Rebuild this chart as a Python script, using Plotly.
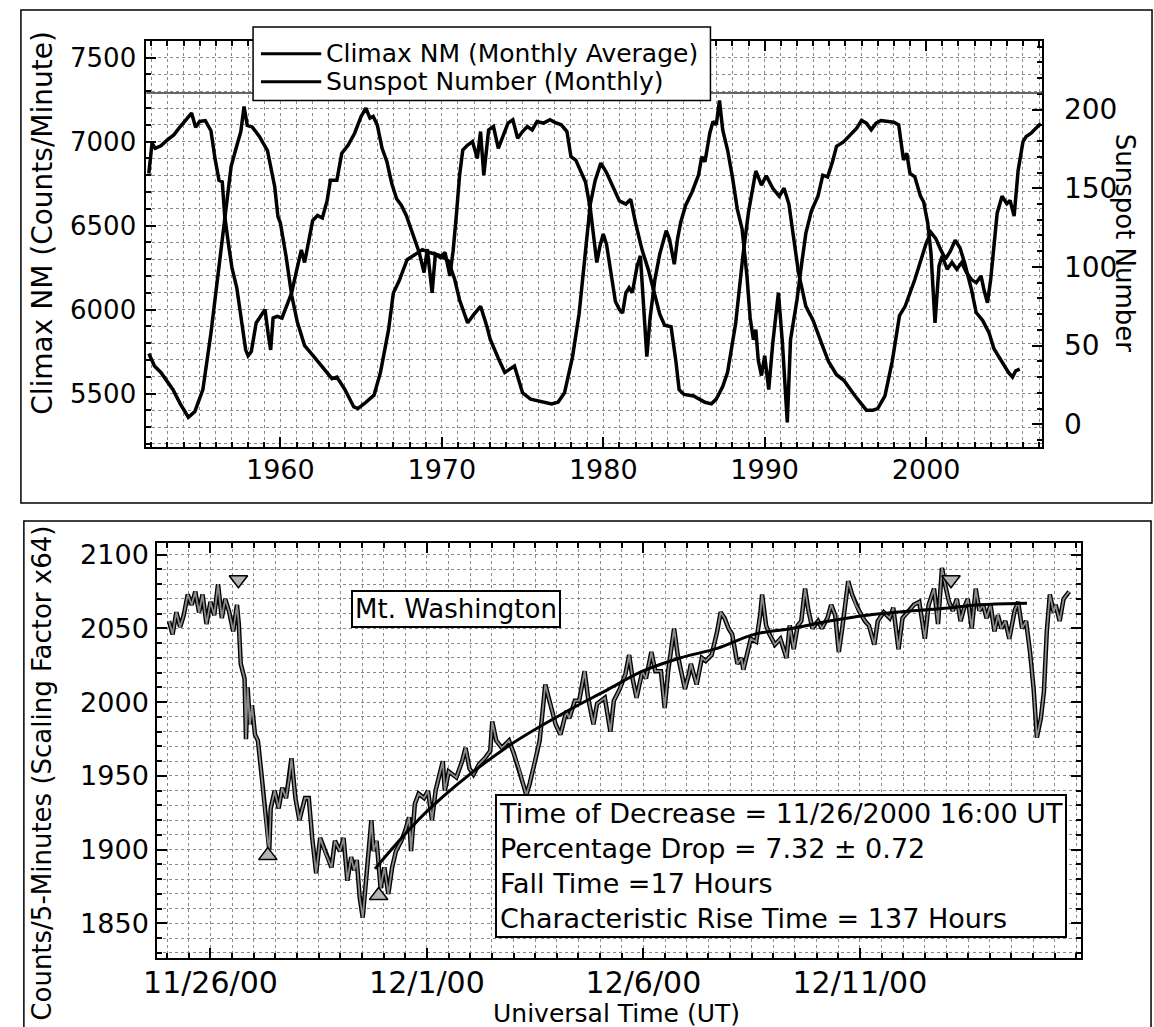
import plotly.graph_objects as go
import pandas as pd

# ---------------- Top panel data ----------------
CLIMAX_YEAR = [1951.85, 1952.05, 1952.25, 1952.6, 1953.0, 1953.4, 1953.8, 1954.2, 1954.5, 1954.75,
               1955.0, 1955.35, 1955.7, 1955.95, 1956.2, 1956.4, 1956.55, 1956.8, 1957.0, 1957.3,
               1957.6, 1957.85, 1958.0, 1958.2, 1958.5, 1958.8, 1959.05, 1959.25, 1959.4, 1959.55,
               1959.8, 1960.1, 1960.4, 1960.7, 1961.0, 1961.3, 1961.5, 1961.75, 1962.0, 1962.3,
               1962.6, 1962.9, 1963.1, 1963.5, 1963.8, 1964.2, 1964.6, 1965.0, 1965.3, 1965.55,
               1965.75, 1966.0, 1966.3, 1966.6, 1966.9, 1967.2, 1967.5, 1967.8, 1968.1, 1968.35,
               1968.6, 1968.9, 1969.1, 1969.4, 1969.6, 1969.9, 1970.2, 1970.5, 1970.7, 1970.9,
               1971.1, 1971.3, 1971.6, 1971.9, 1972.2, 1972.4, 1972.6, 1972.9, 1973.2, 1973.5,
               1973.8, 1974.1, 1974.4, 1974.7, 1975.0, 1975.3, 1975.6, 1975.9, 1976.3, 1976.7,
               1977.0, 1977.4, 1977.75, 1978.0, 1978.3, 1978.6, 1978.9, 1979.2, 1979.45, 1979.6,
               1979.8, 1980.0, 1980.2, 1980.5, 1980.75, 1981.0, 1981.2, 1981.4, 1981.6, 1981.8,
               1982.1, 1982.3, 1982.5, 1982.7, 1982.9, 1983.2, 1983.5, 1983.9, 1984.1, 1984.4,
               1984.6, 1984.8, 1985.1, 1985.5, 1985.9, 1986.1, 1986.3, 1986.6, 1986.8, 1987.0,
               1987.2, 1987.4, 1987.7, 1988.0, 1988.3, 1988.6, 1988.9, 1989.1, 1989.3, 1989.45,
               1989.6, 1989.8, 1990.0, 1990.25, 1990.5, 1990.85, 1991.1, 1991.4, 1991.6, 1992.0,
               1992.3, 1992.55, 1992.9, 1993.3, 1993.6, 1993.9, 1994.2, 1994.45, 1994.9, 1995.4,
               1995.7, 1996.0, 1996.3, 1996.6, 1996.9, 1997.2, 1997.6, 1998.0, 1998.3, 1998.6,
               1998.8, 1999.0, 1999.3, 1999.65, 1999.85, 2000.1, 2000.3, 2000.55, 2000.8, 2001.0,
               2001.3, 2001.6, 2001.9, 2002.2, 2002.5, 2002.8, 2003.1, 2003.4, 2003.6, 2003.8,
               2004.0, 2004.2, 2004.4, 2004.7, 2005.0, 2005.2, 2005.45, 2005.7, 2006.0, 2006.2,
               2006.5, 2006.8, 2007.1]
CLIMAX_NM = [6810, 6990, 6960, 6975, 7010, 7040, 7090, 7140, 7170, 7085,
             7120, 7125, 7065, 6900, 6770, 6760, 6560, 6380, 6250, 6130,
             5930, 5760, 5725, 5750, 5920, 5960, 6000, 5850, 5760, 5950,
             5960, 5950, 6030, 6100, 6230, 6355, 6280, 6400, 6530, 6560,
             6545, 6650, 6770, 6770, 6930, 6980, 7050, 7150, 7200, 7140,
             7150, 7100, 6960, 6880, 6750, 6660, 6620, 6560, 6480, 6400,
             6340, 6220, 6360, 6100, 6330, 6310, 6340, 6200, 6350, 6560,
             6800, 6950, 6980, 7000, 6900, 7060, 6800, 7070, 7090, 6960,
             7040, 7110, 7130, 7020, 7060, 7090, 7070, 7120, 7110, 7130,
             7115, 7100, 7060, 6910, 6890, 6820, 6760, 6600, 6420, 6280,
             6380, 6450, 6390, 6200, 6050, 6000, 5980, 6100, 6130, 6100,
             6260, 6320, 6050, 5720, 5950, 6180, 6330, 6470, 6420, 6270,
             6420, 6520, 6620, 6700, 6800, 6910, 6880, 7050, 7120, 7100,
             7245, 7070, 6950, 6790, 6600, 6480, 6200, 5950, 5820, 5880,
             5700, 5607, 5725, 5524, 5800, 6100, 5800, 5328, 5820, 6058,
             6280, 6455, 6590, 6675, 6800, 6790, 6880, 6972, 7000, 7050,
             7080, 7126, 7110, 7070, 7110, 7126, 7120, 7115, 7100, 6890,
             6930, 6810, 6790, 6675, 6640, 6515, 6337, 5921, 6260, 6320,
             6240, 6280, 6240, 6280, 6220, 6180, 6160, 6200, 6110, 6040,
             6180, 6400, 6574, 6675, 6630, 6650, 6556, 6830, 7000, 7030,
             7050, 7080, 7108]

SSN_YEAR = [1951.85, 1952.2, 1952.6, 1953.0, 1953.35, 1953.8, 1954.3, 1954.7, 1955.2, 1955.7,
            1956.15, 1956.5, 1956.75, 1956.95, 1957.3, 1957.55, 1957.75, 1957.95, 1958.25, 1958.7,
            1959.2, 1959.65, 1959.85, 1960.0, 1960.35, 1960.7, 1961.05, 1961.5, 1962.0, 1962.7,
            1963.2, 1963.5, 1964.0, 1964.55, 1964.8, 1965.3, 1965.8, 1966.2, 1966.7, 1967.0,
            1967.35, 1967.85, 1968.3, 1968.8, 1969.3, 1969.95, 1970.4, 1970.8, 1971.1, 1971.6,
            1972.0, 1972.4, 1972.8, 1973.0, 1973.5, 1973.9, 1974.5, 1975.0, 1975.5, 1976.3,
            1976.8, 1977.2, 1977.6, 1978.1, 1978.5, 1978.8, 1979.2, 1979.5, 1979.85, 1980.2,
            1980.5, 1981.0, 1981.4, 1981.7, 1982.0, 1982.4, 1982.8, 1983.1, 1983.5, 1983.8,
            1984.2, 1984.5, 1984.7, 1985.0, 1985.6, 1986.3, 1986.7, 1987.0, 1987.4, 1987.7,
            1988.2, 1988.65, 1989.0, 1989.45, 1989.8, 1990.1, 1990.5, 1990.9, 1991.2, 1991.5,
            1991.8, 1992.1, 1992.55, 1993.0, 1993.5, 1993.95, 1994.45, 1994.9, 1995.6, 1996.3,
            1996.7, 1997.0, 1997.45, 1997.9, 1998.35, 1998.7, 1999.3, 1999.6, 2000.0, 2000.3,
            2000.6, 2000.9, 2001.2, 2001.5, 2001.8, 2002.1, 2002.4, 2002.8, 2003.1, 2003.5,
            2003.9, 2004.2, 2004.6, 2005.1, 2005.35, 2005.55, 2005.8]
SSN = [45, 37, 33, 27, 22, 13, 4.5, 8, 22, 58,
       96, 128, 151, 164, 177, 186, 202, 190, 189, 183,
       174, 151, 132, 128, 107, 82, 65, 50, 44, 35,
       29, 30, 22, 11, 10, 14, 18.5, 33, 60, 83.5,
       91, 104.6, 107.6, 111, 109, 107, 104, 92, 79, 64.5,
       70, 75, 62, 54, 42, 33, 37, 20, 16, 14,
       13, 14, 20, 43, 70, 100, 140, 155, 166, 160,
       153, 142, 140, 143, 128, 111, 98, 86, 70, 63,
       62, 40, 22, 19, 18, 14, 13, 16, 24, 33,
       64, 107, 135, 161, 152, 158, 150, 145, 150, 140,
       118, 96, 75, 66, 52, 40, 31.5, 28, 18, 9,
       9, 10, 18, 40, 69, 75, 92, 102, 115, 122,
       118, 111, 105, 110, 117, 112, 102, 86, 71, 66,
       58, 48, 41, 33, 30, 34, 35]

TOP_X_TICKS = [1960, 1970, 1980, 1990, 2000]
LEGEND_LABELS = ["Climax NM (Monthly Average)", "Sunspot Number (Monthly)"]

# ---------------- Bottom panel data ----------------
# hours after 2000-11-26 00:00 UT
MW_HOURS = [-23.0, -21.0, -18.9, -16.8, -14.8, -12.6, -10.4, -8.4, -6.3, -4.4,
            -2.2, 0.0, 2.1, 4.2, 6.3, 8.2, 10.4, 12.6, 14.7, 15.7,
            16.8, 18.9, 19.7, 20.6, 21.9, 23.0, 24.7, 26.3, 28.3, 30.4,
            31.8, 32.6, 33.4, 35.6, 37.8, 39.8, 41.9, 43.8, 44.9, 47.1,
            49.3, 52.4, 54.5, 56.4, 58.6, 60.8, 64.0, 67.1, 69.0, 71.8,
            73.8, 75.9, 78.0, 79.7, 81.1, 82.7, 84.4, 86.4, 89.2, 90.4,
            92.1, 94.3, 96.4, 98.6, 100.7, 102.8, 105.8, 108.0, 110.1, 111.2,
            113.3, 115.4, 118.4, 120.6, 122.8, 124.8, 126.9, 128.8, 129.9, 132.1,
            136.3, 139.5, 141.4, 143.6, 145.8, 148.9, 152.1, 155.1, 156.2, 158.4,
            161.5, 165.5, 168.2, 171.0, 173.2, 175.1, 177.0, 180.3, 182.5, 185.6,
            188.5, 191.3, 194.0, 197.3, 198.9, 202.0, 204.4, 207.4, 209.3, 212.3,
            214.3, 218.6, 221.7, 223.6, 226.9, 230.0, 232.1, 234.0, 236.2, 239.4,
            241.4, 244.4, 246.6, 249.7, 251.8, 253.7, 257.0, 259.0, 261.1, 263.0,
            265.2, 266.3, 269.5, 272.4, 274.5, 277.8, 280.9, 282.8, 285.0, 287.2,
            289.2, 292.1, 294.3, 295.4, 299.5, 302.5, 304.7, 305.8, 308.0, 309.9,
            312.9, 315.9, 319.3, 321.1, 323.3, 325.5, 327.5, 329.6, 331.5, 333.7,
            336.8, 338.9, 342.0, 344.1, 346.3, 348.3, 350.2, 353.5, 355.7, 357.7,
            359.5, 362.8, 365.0, 368.0, 369.9, 373.2, 376.5, 378.5, 381.4, 383.6,
            386.7, 389.9, 392.9, 396.0, 398.1, 401.1, 403.3, 405.5, 407.7, 409.4,
            411.5, 413.7, 415.8, 417.8, 419.8, 422.0, 424.2, 426.2, 428.3, 430.2,
            432.4, 434.6, 436.5, 438.4, 440.6, 442.8, 445.8, 447.7, 449.9, 452.1,
            454.3, 456.3, 458.1, 460.3, 462.0, 463.6, 465.3, 467.4, 468.5, 470.7,
            472.9, 476.0]
MW_COUNTS = [2055, 2046, 2061, 2051, 2059, 2073, 2066, 2075, 2061, 2073,
             2053, 2068, 2059, 2080, 2057, 2070, 2061, 2048, 2066, 2053,
             2026, 2016, 1975, 2010, 1985, 1998, 1978, 1974, 1951, 1922,
             1906, 1900, 1928, 1940, 1928, 1942, 1935, 1950, 1962, 1935,
             1920, 1935, 1935, 1908, 1884, 1908, 1897, 1888, 1906, 1899,
             1908, 1879, 1895, 1886, 1893, 1868, 1854, 1881, 1920, 1899,
             1906, 1874, 1888, 1870, 1888, 1899, 1906, 1913, 1922, 1899,
             1931, 1938, 1935, 1940, 1920, 1940, 1951, 1960, 1940, 1953,
             1949, 1960, 1969, 1955, 1951, 1958, 1962, 1967, 1987, 1974,
             1969, 1974, 1965, 1955, 1945, 1937, 1945, 1962, 1974, 2012,
             1999, 1985, 1978, 1994, 1989, 2001, 2001, 2021, 2003, 1985,
             1999, 2003, 1980, 2001, 2009, 2019, 2032, 2016, 2003, 2021,
             2016, 2034, 2021, 2021, 1996, 2021, 2050, 2032, 2020, 2009,
             2019, 2026, 2012, 2030, 2028, 2032, 2048, 2061, 2057, 2050,
             2046, 2026, 2030, 2022, 2043, 2041, 2059, 2073, 2052, 2046,
             2039, 2043, 2030, 2052, 2036, 2052, 2055, 2077, 2062, 2050,
             2055, 2050, 2057, 2066, 2059, 2034, 2050, 2082, 2073, 2066,
             2062, 2055, 2052, 2039, 2055, 2061, 2057, 2064, 2036, 2057,
             2061, 2066, 2068, 2043, 2066, 2077, 2053, 2091, 2077, 2068,
             2062, 2070, 2055, 2064, 2070, 2050, 2077, 2062, 2066, 2057,
             2066, 2048, 2059, 2050, 2055, 2043, 2062, 2068, 2050, 2055,
             2034, 2009, 1976, 1989, 2007, 2048, 2073, 2061, 2066, 2055,
             2070, 2075]

FIT_HOURS = [91.2, 121.7, 163.6, 197.8, 218.7, 239.5, 260.3, 280.9, 301.4, 322.2,
             343.0, 363.9, 384.7, 405.5, 426.3, 452.6]
FIT_COUNTS = [1887, 1928, 1969, 1994, 2007.5, 2021, 2030, 2036.5, 2046, 2050,
              2055, 2059, 2061.5, 2063.5, 2066, 2067]

ONSET_HOURS = [15.5, 410.5]       # downward triangles
ONSET_COUNTS = [2083, 2083]
MIN_HOURS = [31.8, 93.2]          # upward triangles
MIN_COUNTS = [1896, 1869]

BOTTOM_TICK_DATES = ["2000-11-26", "2000-12-01", "2000-12-06", "2000-12-11"]
BOTTOM_TICK_TEXT = ["11/26/00", "12/1/00", "12/6/00", "12/11/00"]

BASE = pd.Timestamp("2000-11-26 00:00")


def to_time(hours):
    return [BASE + pd.Timedelta(hours=h) for h in hours]


FONT = "DejaVu Sans"
W, H = 1154, 1027

fig = go.Figure()

fig.add_trace(go.Scatter(x=CLIMAX_YEAR, y=CLIMAX_NM, xaxis="x", yaxis="y", mode="lines",
                         line=dict(color="black", width=3.5), name=LEGEND_LABELS[0]))
fig.add_trace(go.Scatter(x=SSN_YEAR, y=SSN, xaxis="x", yaxis="y2", mode="lines",
                         line=dict(color="black", width=3.5), name=LEGEND_LABELS[1]))

mw_t = to_time(MW_HOURS)
fig.add_trace(go.Scatter(x=mw_t, y=MW_COUNTS, xaxis="x2", yaxis="y3", mode="lines",
                         line=dict(color="black", width=4.5)))
fig.add_trace(go.Scatter(x=mw_t, y=MW_COUNTS, xaxis="x2", yaxis="y3", mode="lines",
                         line=dict(color="#8c8c8c", width=1.8)))
fig.add_trace(go.Scatter(x=to_time(FIT_HOURS), y=FIT_COUNTS, xaxis="x2", yaxis="y3",
                         mode="lines", line=dict(color="black", width=3, shape="spline")))
fig.add_trace(go.Scatter(x=to_time(ONSET_HOURS), y=ONSET_COUNTS, xaxis="x2", yaxis="y3",
                         mode="markers",
                         marker=dict(symbol="triangle-down", size=16, color="#b4b4b4",
                                     line=dict(color="black", width=1.5))))
fig.add_trace(go.Scatter(x=to_time(MIN_HOURS), y=MIN_COUNTS, xaxis="x2", yaxis="y3",
                         mode="markers",
                         marker=dict(symbol="triangle-up", size=16, color="#b4b4b4",
                                     line=dict(color="black", width=1.5))))

grid = dict(showgrid=True, gridcolor="#8a8a8a", griddash="dot", gridwidth=1)
axis_common = dict(showline=True, linecolor="black", linewidth=2, ticks="inside",
                   tickcolor="black", tickwidth=2, ticklen=10, zeroline=False)


def tf(size):
    return dict(family=FONT, size=size, color="black")


top_x_dom = [134 / W, 1041 / W]
top_y_dom = [1 - 445 / H, 1 - 37 / H]
bot_x_dom = [145 / W, 1080 / W]
bot_y_dom = [1 - 958 / H, 1 - 541 / H]

fig.update_layout(
    width=W, height=H,
    margin=dict(l=0, r=0, t=0, b=0),
    paper_bgcolor="white", plot_bgcolor="white",
    font=dict(family=FONT, size=26, color="black"),
    showlegend=False,
    xaxis=dict(domain=top_x_dom, anchor="y", range=[1951.7, 2007.2],
               tickmode="array", tickvals=TOP_X_TICKS, mirror="ticks",
               ticklabelstandoff=-3, tickfont=tf(27),
               minor=dict(dtick=1, tick0=1950, ticklen=5, tickcolor="black",
                          ticks="inside", showgrid=True, gridcolor="#8a8a8a",
                          griddash="dot", gridwidth=1),
               **grid, **axis_common),
    yaxis=dict(domain=top_y_dom, anchor="x", range=[5180, 7600], dtick=500, tick0=5500,
               ticklabelstandoff=3, tickfont=tf(26),
               minor=dict(dtick=100, ticklen=5, tickcolor="black", ticks="inside",
                          showgrid=True, gridcolor="#8a8a8a", griddash="dot", gridwidth=1),
               **grid, **axis_common),
    yaxis2=dict(overlaying="y", anchor="x", side="right", range=[-14.6, 243.7],
                dtick=50, tick0=0, showgrid=False, ticklabelstandoff=14, tickfont=tf(28),
                minor=dict(dtick=10, ticklen=5, tickcolor="black", ticks="inside"),
                **axis_common),
    xaxis2=dict(domain=bot_x_dom, anchor="y3", type="date",
                range=[BASE - pd.Timedelta(hours=29.5), BASE + pd.Timedelta(hours=482.5)],
                tickmode="array", tickvals=BOTTOM_TICK_DATES, ticktext=BOTTOM_TICK_TEXT,
                mirror="ticks", ticklabelstandoff=-3, tickfont=tf(30),
                minor=dict(dtick=43200000, tick0="2000-11-25", ticklen=5, tickcolor="black",
                           ticks="inside", showgrid=True, gridcolor="#8a8a8a",
                           griddash="dot", gridwidth=1),
                **grid, **axis_common),
    yaxis3=dict(domain=bot_y_dom, anchor="x2", range=[1826.4, 2108], dtick=50, tick0=1850,
                mirror="ticks", ticklabelstandoff=1, tickfont=tf(27),
                minor=dict(dtick=10, ticklen=5, tickcolor="black", ticks="inside",
                           showgrid=True, gridcolor="#8a8a8a", griddash="dot", gridwidth=1),
                **grid, **axis_common),
)

# panel frames
fig.add_shape(type="rect", xref="paper", yref="paper",
              x0=7 / W, x1=1152 / W, y0=1 - 501 / H, y1=1 - 6 / H,
              line=dict(color="black", width=1.5), layer="below")
fig.add_shape(type="rect", xref="paper", yref="paper",
              x0=10 / W, x1=1151 / W, y0=-0.02, y1=1 - 519 / H,
              line=dict(color="black", width=1.5), layer="below")
# darker horizontal reference line in the top panel
fig.add_shape(type="line", xref="x domain", yref="y", x0=0, x1=1, y0=7290, y1=7290,
              line=dict(color="#333333", width=1.5))

# legend box drawn by hand (opaque, over the plot)
fig.add_shape(type="rect", xref="paper", yref="paper",
              x0=242 / W, x1=705 / W, y0=1 - 97 / H, y1=1 - 23 / H,
              fillcolor="white", line=dict(color="black", width=1.5), layer="above")
legend_rows = [50, 78]
ann = []
for row_y, label in zip(legend_rows, LEGEND_LABELS):
    fig.add_shape(type="line", xref="paper", yref="paper",
                  x0=250 / W, x1=311 / W, y0=1 - row_y / H, y1=1 - row_y / H,
                  line=dict(color="black", width=3), layer="above")
    ann.append(dict(text=label, x=314 / W, y=1 - row_y / H, xref="paper", yref="paper",
                    xanchor="left", yanchor="middle", showarrow=False, font=tf(25)))

ann.append(dict(text="Climax NM (Counts/Minute)", x=28 / W, y=1 - 220 / H, xref="paper",
                yref="paper", xanchor="center", yanchor="middle", textangle=-90,
                showarrow=False, font=tf(28)))
ann.append(dict(text="Sunspot Number", x=1125 / W, y=1 - 240 / H, xref="paper",
                yref="paper", xanchor="center", yanchor="middle", textangle=90,
                showarrow=False, font=tf(26)))
ann.append(dict(text="Counts/5-Minutes (Scaling Factor x64)", x=28 / W, y=1 - 772 / H,
                xref="paper", yref="paper", xanchor="center", yanchor="middle",
                textangle=-90, showarrow=False, font=tf(26)))
ann.append(dict(text="Universal Time (UT)", x=610 / W, y=1 - 1013 / H, xref="paper",
                yref="paper", xanchor="center", yanchor="middle", showarrow=False,
                font=tf(25)))
ann.append(dict(text="Mt. Washington", x=447 / W, y=1 - 607 / H, xref="paper", yref="paper",
                xanchor="center", yanchor="middle",
                showarrow=False, font=tf(26), bgcolor="white",
                bordercolor="black", borderwidth=2, borderpad=2))
ann.append(dict(text=("Time of Decrease = 11/26/2000 16:00 UT<br>"
                      "Percentage Drop = 7.32 ± 0.72<br>"
                      "Fall Time =17 Hours<br>"
                      "Characteristic Rise Time = 137 Hours"),
                x=487 / W, y=1 - 793 / H, xref="paper", yref="paper",
                xanchor="left", yanchor="top", align="left", showarrow=False,
                font=tf(27), bgcolor="white", bordercolor="black",
                borderwidth=2, borderpad=2))
fig.update_layout(annotations=ann)

fig.write_html("out.html", config={"displayModeBar": False})

# remove default page margins so the figure sits at the window's top-left corner
with open("out.html", "r", encoding="utf-8") as f:
    html = f.read()
html = html.replace("<head>", "<head><style>html,body{margin:0;padding:0;overflow:hidden;}</style>", 1)
with open("out.html", "w", encoding="utf-8") as f:
    f.write(html)
